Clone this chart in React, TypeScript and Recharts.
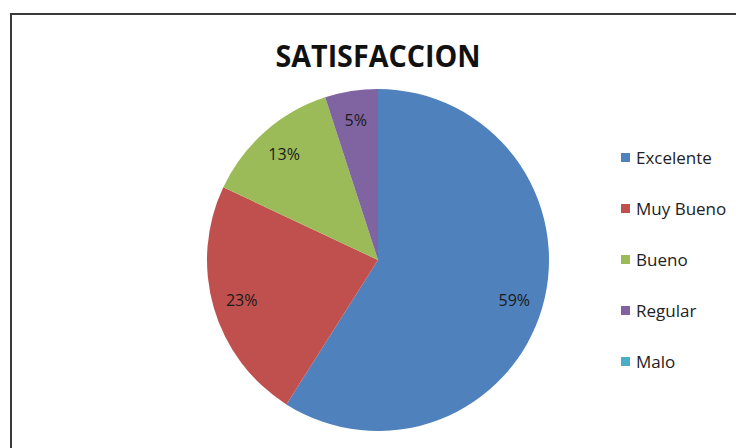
import React from 'react';
import { PieChart, Pie, Cell, Legend } from 'recharts';

const categories = ['Excelente', 'Muy Bueno', 'Bueno', 'Regular', 'Malo'];
const shares = [59, 23, 13, 5, 0];
const colors = ['#4F81BD', '#C0504D', '#9BBB59', '#8064A2', '#4BACC6'];

const chartData = categories.map((name, i) => ({ name, value: shares[i] }));

const FONT = '"Open Sans", "Noto Sans", sans-serif';
const RAD = Math.PI / 180;

const renderPctLabel = (props: any) => {
  const { cx, cy, midAngle, outerRadius, value } = props;
  if (!value) return null;
  const r = outerRadius * 0.83;
  const x = cx + r * Math.cos(-midAngle * RAD);
  const y = cy + r * Math.sin(-midAngle * RAD);
  return (
    <text x={x} y={y} textAnchor="middle" dominantBaseline="central" fill="#1a1a1a" fontSize={16} fontFamily={FONT}>
      {value}%
    </text>
  );
};

const renderLegend = () => (
  <div style={{ fontFamily: FONT, fontSize: 17, color: '#222' }}>
    {categories.map((name, i) => (
      <div key={name} style={{ display: 'flex', alignItems: 'center', height: 51 }}>
        <span style={{ width: 9, height: 9, background: colors[i], marginRight: 6, display: 'inline-block' }} />
        <span>{name}</span>
      </div>
    ))}
  </div>
);

export default function App() {
  return (
    <div style={{ position: 'absolute', left: 0, top: 0, width: 736, height: 448, background: '#fff', overflow: 'hidden' }}>
      <div
        style={{
          position: 'absolute',
          left: 10,
          top: 13,
          width: 760,
          height: 460,
          border: '2px solid #3a3a3a',
          boxSizing: 'border-box',
        }}
      />
      <div style={{ position: 'absolute', left: 0, top: 0 }}>
        <PieChart width={736} height={448}>
          <text x={378} y={55} textAnchor="middle" dominantBaseline="central" fontFamily={FONT} fontWeight={700} fontSize={31} fill="#111" textLength={205} lengthAdjust="spacingAndGlyphs">
            SATISFACCION
          </text>
          <Pie
            data={chartData}
            dataKey="value"
            nameKey="name"
            cx={373}
            cy={255}
            outerRadius={171}
            startAngle={90}
            endAngle={-270}
            stroke="none"
            labelLine={false}
            label={renderPctLabel}
            isAnimationActive={false}
          >
            {chartData.map((d, i) => (
              <Cell key={d.name} fill={colors[i]} />
            ))}
          </Pie>
          <Legend
            layout="vertical"
            content={renderLegend}
            wrapperStyle={{ left: 621, top: 132, width: 115 }}
          />
        </PieChart>
      </div>
    </div>
  );
}
